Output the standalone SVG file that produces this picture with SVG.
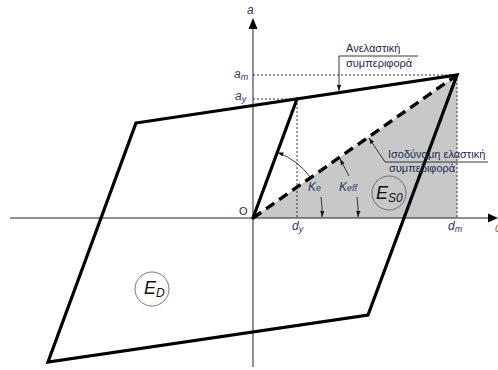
<svg xmlns="http://www.w3.org/2000/svg" width="498" height="370" viewBox="0 0 498 370">
<style>
.ax{stroke:#222;stroke-width:1;fill:none}
.thick{stroke:#000;stroke-width:3.2;fill:none;stroke-linejoin:miter;stroke-linecap:round}
.dash{stroke:#000;stroke-width:3.4;fill:none;stroke-dasharray:10 6}
.dot{stroke:#222;stroke-width:0.9;fill:none;stroke-dasharray:2 2}
.lead{stroke:#222;stroke-width:0.9;fill:none}
.lbl{font-family:"Liberation Sans",Arial,sans-serif;font-style:italic;fill:#2b3a67}
.gr{font-family:"Liberation Sans",Arial,sans-serif;font-size:11px;fill:#1a2a55}
.E{font-family:"Liberation Sans",Arial,sans-serif;font-style:italic;fill:#111}
.circ{stroke:#555;stroke-width:0.8;fill:none}
</style>
<defs>
<marker id="ah" viewBox="0 0 10 10" refX="10" refY="5" markerWidth="6" markerHeight="6" orient="auto" markerUnits="userSpaceOnUse">
<path d="M0,1.5 L10,5 L0,8.5 Z" fill="#111"/>
</marker>
</defs>
<g id="shade">
<polygon points="253,218 457,75 457,218" fill="#c8c8c8"/>
</g>
<g id="guides">
<line class="dot" x1="253" y1="75" x2="457" y2="75"/>
<line class="dot" x1="253" y1="99" x2="297" y2="99"/>
<line class="dot" x1="297" y1="99" x2="297" y2="218"/>
<line class="dot" x1="457" y1="75" x2="457" y2="218"/>
</g>
<g id="axes">
<line class="ax" x1="10" y1="218" x2="490" y2="218"/>
<polygon points="498,218 488,213.5 488,222.5" fill="#000"/>
<line class="ax" x1="253" y1="28" x2="253" y2="367"/>
<polygon points="253,18 248.5,29 257.5,29" fill="#000"/>
<text class="lbl" x="247" y="14" font-size="12">a</text>
<text x="239" y="215" font-family="Liberation Sans,Arial,sans-serif" font-size="11" fill="#1a2a55">O</text>
<text class="lbl" x="234" y="78" font-size="12">a<tspan font-size="9" dy="2">m</tspan></text>
<text class="lbl" x="235" y="100" font-size="12">a<tspan font-size="9" dy="2">y</tspan></text>
<text class="lbl" x="292" y="230" font-size="12">d<tspan font-size="9" dy="2">y</tspan></text>
<text class="lbl" x="448" y="230" font-size="12">d<tspan font-size="9" dy="2">m</tspan></text>
<text x="495" y="232" font-family="Liberation Sans,Arial,sans-serif" font-style="italic" font-size="12" fill="#c87020">d</text>
</g>
<g id="loop">
<polygon class="thick" points="136,123 457,75 368,315 48,362"/>
<line class="thick" x1="253" y1="218" x2="297" y2="99"/>
<line class="dash" x1="253" y1="218" x2="457" y2="75"/>
</g>
<g id="connectors">
<path class="lead" d="M310.5,177.6 A70,70 0 0 0 277.5,152.5" marker-end="url(#ah)"/>
<path class="lead" d="M321,197 Q322.5,207 322,217" marker-end="url(#ah)"/>
<path class="lead" d="M357,197 Q358.5,207 358,217" marker-end="url(#ah)"/>
<line class="lead" x1="349" y1="176" x2="340" y2="159" marker-end="url(#ah)"/>
<polyline class="lead" points="418,56 339,56 339,91" marker-end="url(#ah)"/>
<polyline class="lead" points="488,162 385,162 369,138" marker-end="url(#ah)"/>
</g>
<g id="labels">
<text class="gr" x="346" y="52">Ανελαστική</text>
<text class="gr" x="346" y="67">συμπεριφορά</text>
<text class="gr" x="388" y="158">Ισοδύναμη ελαστική</text>
<text class="gr" x="389" y="172">συμπεριφορά</text>
<text class="lbl" x="308" y="191" font-size="12">K<tspan font-size="9" font-style="normal">e</tspan></text>
<text class="lbl" x="339" y="191" font-size="12">K<tspan font-size="9">eff</tspan></text>
</g>
<g id="ES0">
<circle class="circ" cx="389" cy="193" r="17"/>
<text class="E" x="376" y="199" font-size="18">E<tspan font-size="12" dy="3">S0</tspan></text>
</g>
<g id="ED">
<circle class="circ" cx="152" cy="289" r="17"/>
<text class="E" x="144" y="294" font-size="18">E<tspan font-size="12" dy="3">D</tspan></text>
</g>
</svg>
